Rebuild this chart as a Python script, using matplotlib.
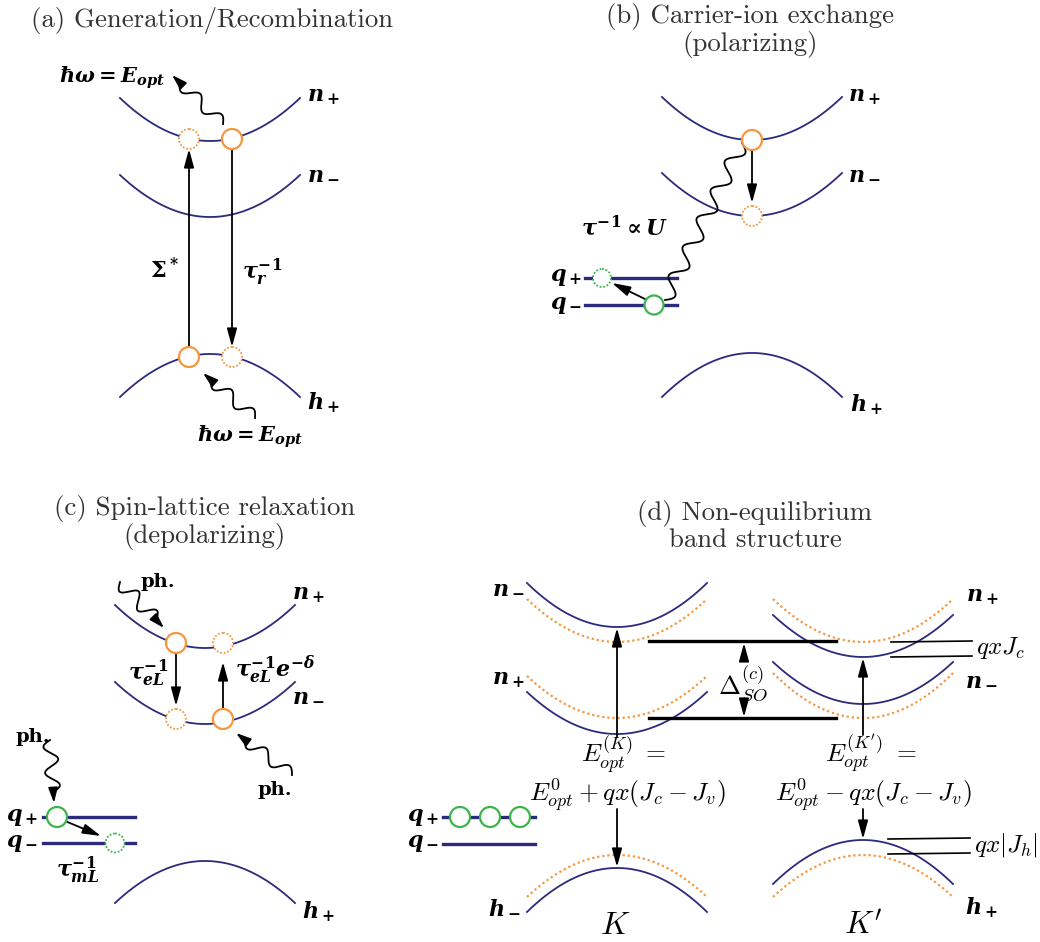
import numpy as np
import matplotlib.pyplot as plt
from matplotlib.patches import Circle

# bold italic labels use a custom math font set, the formulas of (d) use Computer Modern
plt.rcParams['mathtext.it'] = 'DejaVu Serif:italic:bold'
plt.rcParams['mathtext.rm'] = 'DejaVu Serif:bold'
plt.rcParams['mathtext.bf'] = 'DejaVu Serif:bold'
plt.rcParams['mathtext.sf'] = 'DejaVu Serif:bold'

NAVY = '#2b2a7c'
ORANGE = '#f7963d'
GREEN = '#3bb54a'
TITLE_GREY = '#333333'

# band curves: x centre, y at vertex, y at the ends, half width, kind (n = navy solid, o = orange dotted)
BANDS = [
    (210, 141, 98, 90, 'n'), (210, 217, 175, 90, 'n'), (210, 354, 397, 90, 'n'),
    (752, 140, 97, 90, 'n'), (752, 216, 173, 90, 'n'), (752, 353, 397, 90, 'n'),
    (205, 648, 605, 90, 'n'), (205, 724, 682, 90, 'n'), (205, 861, 903, 90, 'n'),
    (617, 627, 583, 90, 'n'), (617, 642, 599, 90, 'o'),
    (617, 734, 692, 90, 'n'), (617, 718, 676, 90, 'o'),
    (617, 868, 912, 90, 'n'), (617, 855, 897, 90, 'o'),
    (863, 657, 615, 90, 'n'), (863, 642, 599, 90, 'o'),
    (863, 704, 662, 90, 'n'), (863, 718, 673, 90, 'o'),
    (863, 840, 884, 90, 'n'), (863, 855, 897, 90, 'o'),
]

# ion levels q+/q- (thick navy lines): x start, x end, y
Q_LEVELS = [
    (585, 677, 278), (585, 677, 305),
    (43, 135, 817), (43, 135, 843),
    (443, 535, 817), (443, 535, 844),
]

# black reference lines in (d): x0, y0, x1, y1, width
REF_LINES = [
    (649, 641, 836, 641, 2.4), (649, 718, 836, 718, 2.4),
    (891, 642, 972, 641, 1.2), (891, 657, 972, 656, 1.2),
    (888, 839, 970, 838, 1.2), (888, 854, 970, 853, 1.2),
]

# carriers: x, y, radius, colour, solid edge (True) or dotted (False)
CIRCLES = [
    (189, 139, 10, ORANGE, False), (232, 139, 10, ORANGE, True),
    (189, 357, 10, ORANGE, True), (232, 357, 10, ORANGE, False),
    (752, 140, 10, ORANGE, True), (752, 216, 10, ORANGE, False),
    (602, 278, 9, GREEN, False), (654, 305, 9.5, GREEN, True),
    (176, 643, 10, ORANGE, True), (223, 643, 10, ORANGE, False),
    (176, 719, 10, ORANGE, False), (223, 719, 10, ORANGE, True),
    (57, 817, 10, GREEN, True), (115, 843, 9.5, GREEN, False),
    (460, 817, 10, GREEN, True), (490, 817, 10, GREEN, True), (520, 817, 10, GREEN, True),
]

# straight arrows: start x, start y, tip x, tip y
ARROWS = [
    (189, 347, 189, 149), (232, 149, 232, 347),
    (752, 150, 752, 203), (645, 299, 612, 283),
    (176, 653, 176, 706), (223, 709, 223, 662), (65, 821, 101, 836),
    (617, 737, 617, 628), (617, 809, 617, 867),
    (863, 735, 863, 658), (863, 809, 863, 839),
    (744, 660, 744, 643), (744, 703, 744, 717),
]

# photon / exchange wiggles: start, end, periods, amplitude, arrow head at end
WAVES = [
    (223, 124, 172, 75, 2, 6, True),
    (255, 418, 203, 373, 2, 6, True),
    (665, 300, 742, 143, 5.5, 7.5, False),
    (120, 582, 164, 628, 2, 7, True),
    (292, 775, 236, 733, 2, 6, True),
    (50, 740, 54, 803, 2, 7, True),
]

TITLES = [
    (212, 20, '(a) Generation/Recombination'),
    (750, 31, '(b) Carrier-ion exchange\n(polarizing)'),
    (205, 523, '(c) Spin-lattice relaxation\n(depolarizing)'),
    (755, 526, '(d) Non-equilibrium\nband structure'),
]

# bold labels: x, y, text, horizontal alignment, size
BOLD_LABELS = [
    (307, 97, r'$n_+$', 'left', 16), (307, 173, r'$n_-$', 'left', 16), (307, 403, r'$h_+$', 'left', 16),
    (112, 78, r'$\hbar\omega = E_{opt}$', 'center', 15), (250, 437, r'$\hbar\omega = E_{opt}$', 'center', 15),
    (164, 270, r'$\Sigma^*$', 'center', 16), (262, 272, r'$\tau_r^{-1}$', 'center', 16),
    (848, 97, r'$n_+$', 'left', 16), (848, 173, r'$n_-$', 'left', 16), (850, 405, r'$h_+$', 'left', 16),
    (582, 278, r'$q_+$', 'right', 16), (582, 305, r'$q_-$', 'right', 16),
    (625, 227, r'$\tau^{-1} \propto U$', 'center', 16),
    (292, 595, r'$n_+$', 'left', 16), (292, 695, r'$n_-$', 'left', 16), (302, 912, r'$h_+$', 'left', 16),
    (148, 673, r'$\tau_{eL}^{-1}$', 'center', 16), (275, 670, r'$\tau_{eL}^{-1}e^{-\delta}$', 'center', 16),
    (78, 870, r'$\tau_{mL}^{-1}$', 'center', 16),
    (38, 817, r'$q_+$', 'right', 16), (38, 843, r'$q_-$', 'right', 16),
    (439, 817, r'$q_+$', 'right', 16), (439, 844, r'$q_-$', 'right', 16),
    (508, 587, r'$n_-$', 'center', 16), (508, 680, r'$n_+$', 'center', 16),
    (504, 907, r'$h_-$', 'center', 16),
    (966, 597, r'$n_+$', 'left', 16), (965, 679, r'$n_-$', 'left', 16),
    (965, 908, r'$h_+$', 'left', 16),
]
PH_LABELS = [(158, 582), (33, 737), (275, 790)]

# regular Computer Modern labels of (d)
CM_LABELS = [
    (615, 925, r'$K$', 'center', 23), (863, 925, r"$K'$", 'center', 23),
    (976, 648, r'$qxJ_c$', 'left', 18), (974, 845, r'$qx|J_h|$', 'left', 18),
    (743, 683, r'$\Delta_{SO}^{(c)}$', 'center', 19),
    (624, 754, r'$E_{opt}^{(K)}\ =$', 'center', 18.5),
    (627, 795, r'$E^0_{opt} + qx(J_c - J_v)$', 'center', 18.5),
    (871, 754, r"$E_{opt}^{(K')}\ =$", 'center', 18.5),
    (873, 795, r'$E^0_{opt} - qx(J_c - J_v)$', 'center', 18.5),
]


def arrow(ax, x0, y0, x1, y1, hl=1.1, hw=0.3):
    ax.annotate('', xy=(x1, y1), xytext=(x0, y0), zorder=2,
                arrowprops=dict(arrowstyle='-|>,head_length=%g,head_width=%g' % (hl, hw),
                                mutation_scale=10, color='k', lw=1.3,
                                shrinkA=0, shrinkB=0))


def wavy(ax, x0, y0, x1, y1, periods, amp, head):
    p0 = np.array([x0, y0], float)
    p1 = np.array([x1, y1], float)
    d = p1 - p0
    L = np.hypot(*d)
    u = d / L
    nv = np.array([-u[1], u[0]])
    tail = 11 if head else 0
    t = np.linspace(0, L - tail, 300)
    off = amp * np.sin(2 * np.pi * periods * t / (L - tail))
    pts = p0 + np.outer(t, u) + np.outer(off, nv)
    ax.plot(pts[:, 0], pts[:, 1], color='k', lw=1.3, zorder=2)
    if head:
        arrow(ax, pts[-1, 0], pts[-1, 1], x1, y1, hl=0.9, hw=0.28)


fig = plt.figure(figsize=(10.4, 9.42), dpi=100)
ax = fig.add_axes([0, 0, 1, 1])
ax.set_xlim(0, 1040)
ax.set_ylim(942, 0)
ax.axis('off')

for xc, yv, ye, hw, kind in BANDS:
    x = np.linspace(xc - hw, xc + hw, 120)
    y = yv + (ye - yv) * ((x - xc) / hw) ** 2
    if kind == 'n':
        ax.plot(x, y, color=NAVY, lw=1.3, zorder=1)
    else:
        ax.plot(x, y, color=ORANGE, lw=1.6, ls=(0, (1, 1.3)), zorder=1)

for x0, x1, y in Q_LEVELS:
    ax.plot([x0, x1], [y, y], color=NAVY, lw=2.4, zorder=1)

for x0, y0, x1, y1, w in REF_LINES:
    ax.plot([x0, x1], [y0, y1], color='k', lw=w, zorder=1)

for x0, y0, x1, y1 in ARROWS:
    arrow(ax, x0, y0, x1, y1)

for w in WAVES:
    wavy(ax, *w)

for x, y, r, c, solid in CIRCLES:
    ax.add_patch(Circle((x, y), r, facecolor='white', edgecolor=c,
                        lw=1.6 if solid else 1.3, ls='-' if solid else (0, (1, 1)),
                        zorder=3))

for x, y, s in TITLES:
    ax.text(x, y, s, ha='center', va='center', fontsize=19.3, family='cmr10',
            color=TITLE_GREY, linespacing=1.05)

for x, y, s, ha, fs in BOLD_LABELS:
    ax.text(x, y, s, ha=ha, va='center', fontsize=fs, math_fontfamily='custom')

for x, y in PH_LABELS:
    ax.text(x, y, 'ph.', ha='center', va='center', fontsize=14,
            family='DejaVu Serif', fontweight='bold')

for x, y, s, ha, fs in CM_LABELS:
    ax.text(x, y, s, ha=ha, va='center', fontsize=fs, math_fontfamily='cm')

fig.savefig('out.png', dpi=100)
